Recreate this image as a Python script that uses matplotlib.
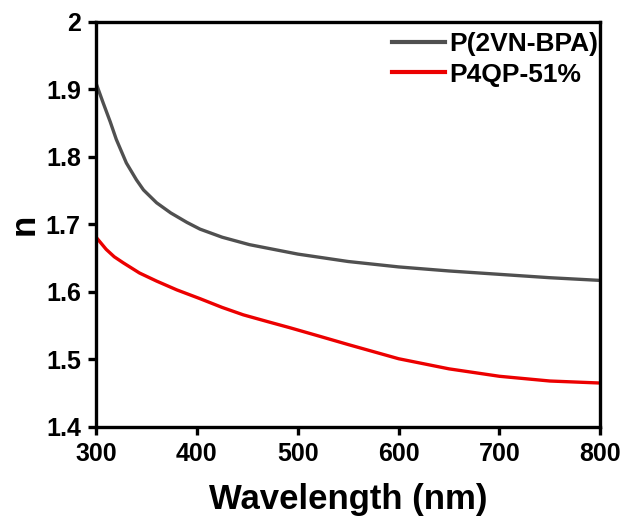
import matplotlib
matplotlib.use("Agg")
import matplotlib.pyplot as plt

plt.rcParams['font.family'] = ['Liberation Sans', 'DejaVu Sans']
plt.rcParams['font.weight'] = 'bold'

wl_black = [300, 307, 314, 320, 330, 340, 347, 360, 374, 390, 403, 425, 452, 500, 550, 600, 650, 700, 750, 800]
n_black = [1.909, 1.880, 1.852, 1.826, 1.791, 1.766, 1.751, 1.732, 1.717, 1.703, 1.693, 1.681, 1.670, 1.656, 1.645, 1.637, 1.631, 1.626, 1.621, 1.617]

wl_red = [300, 310, 318, 327, 343, 360, 380, 403, 425, 446, 470, 492, 520, 550, 600, 650, 700, 750, 800]
n_red = [1.681, 1.663, 1.652, 1.643, 1.628, 1.616, 1.603, 1.590, 1.577, 1.566, 1.556, 1.547, 1.535, 1.522, 1.501, 1.486, 1.475, 1.468, 1.465]

labels = ["P(2VN-BPA)", "P4QP-51%"]
xticks = [300, 400, 500, 600, 700, 800]
yticks = [1.4, 1.5, 1.6, 1.7, 1.8, 1.9, 2.0]
yticklabels = ["1.4", "1.5", "1.6", "1.7", "1.8", "1.9", "2"]

fig = plt.figure(figsize=(6.24, 5.2), dpi=100)
ax = fig.add_axes([0.154, 0.179, 0.808, 0.779])
ax.plot(wl_black, n_black, color='#505050', lw=2.4, label=labels[0])
ax.plot(wl_red, n_red, color='#ec0000', lw=2.4, label=labels[1])
ax.set_xlim(300, 800)
ax.set_ylim(1.4, 2.0)
ax.set_xticks(xticks)
ax.set_yticks(yticks)
ax.set_yticklabels(yticklabels)
for s in ax.spines.values():
    s.set_linewidth(2.4)
ax.tick_params(direction='out', length=6, width=2.4, labelsize=18, pad=5)
for lab in ax.get_xticklabels() + ax.get_yticklabels():
    lab.set_fontweight('bold')
ax.set_xlabel("Wavelength (nm)", fontsize=25, fontweight='bold', labelpad=12)
ax.set_ylabel("n", fontsize=25, fontweight='bold', labelpad=4)
leg = ax.legend(loc='upper right', bbox_to_anchor=(0.995, 0.975), frameon=False,
                handlelength=2.0, handletextpad=0.15, borderaxespad=0.0,
                labelspacing=0.25, borderpad=0.0, prop={'weight': 'bold', 'size': 19})
for h in leg.get_lines():
    h.set_linewidth(3.0)
fig.savefig("out.png", dpi=100)
